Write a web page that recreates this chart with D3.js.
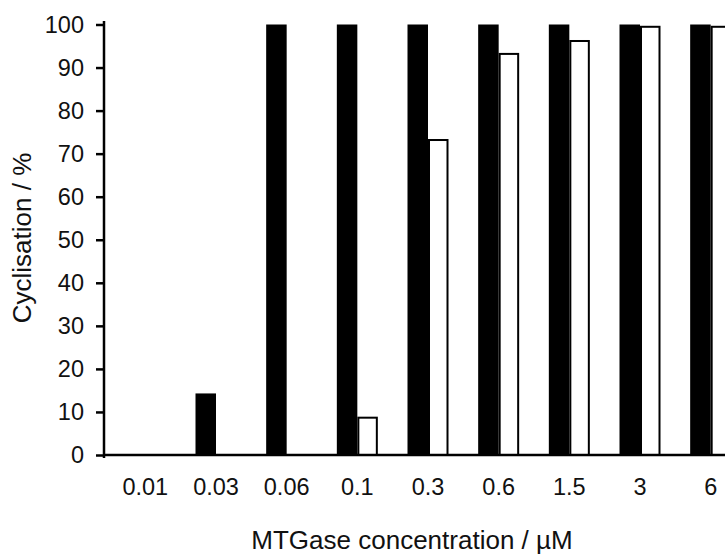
<!DOCTYPE html>
<html>
<head>
<meta charset="utf-8">
<script src="https://cdn.jsdelivr.net/npm/d3@7"></script>
<style>
  body { margin: 0; background: #fff; }
  svg { display: block; font-family: "Liberation Sans", Arial, sans-serif; }
</style>
</head>
<body>
<svg id="chart" width="725" height="555"></svg>
<script>
const concentrations = ["0.01", "0.03", "0.06", "0.1", "0.3", "0.6", "1.5", "3", "6"];
const blackValues = [0, 14.3, 100, 100, 100, 100, 100, 100, 100];
const whiteValues = [0, 0, 0, 8.9, 73.4, 93.4, 96.4, 99.7, 99.7];
const yTicks = [0, 10, 20, 30, 40, 50, 60, 70, 80, 90, 100];

const svg = d3.select("#chart");

const x = d3.scaleBand()
  .domain(concentrations)
  .range([110, 746])
  .padding(0);

const y = d3.scaleLinear()
  .domain([0, 100])
  .range([455, 24.5]);

const barW = 20.5;

// black bars (left of each group)
svg.selectAll("rect.black")
  .data(concentrations)
  .enter()
  .append("rect")
  .attr("class", "black")
  .attr("x", (d) => x(d) + x.bandwidth() / 2 - barW)
  .attr("y", (d, i) => y(blackValues[i]))
  .attr("width", barW)
  .attr("height", (d, i) => y(0) - y(blackValues[i]))
  .attr("fill", "#000");

// white bars with black outline (right of each group)
svg.selectAll("rect.white")
  .data(concentrations.filter((d, i) => whiteValues[i] > 0))
  .enter()
  .append("rect")
  .attr("class", "white")
  .attr("x", (d) => x(d) + x.bandwidth() / 2 + 1)
  .attr("y", (d) => y(whiteValues[concentrations.indexOf(d)]) + 1)
  .attr("width", barW - 2)
  .attr("height", (d) => y(0) - y(whiteValues[concentrations.indexOf(d)]) - 1)
  .attr("fill", "#fff")
  .attr("stroke", "#000")
  .attr("stroke-width", 2);

// y axis
const yAxis = svg.append("g")
  .attr("transform", "translate(104,0)")
  .call(d3.axisLeft(y).tickValues(yTicks).tickSize(8).tickPadding(12));
yAxis.select(".domain").remove();
yAxis.selectAll(".tick line").attr("stroke", "#000").attr("stroke-width", 2.5);
yAxis.selectAll(".tick text")
  .attr("font-size", 23.5)
  .attr("fill", "#111")
  .attr("font-family", "'Liberation Sans', Arial, sans-serif");

svg.append("line")
  .attr("x1", 104).attr("x2", 104)
  .attr("y1", 21).attr("y2", 458)
  .attr("stroke", "#000").attr("stroke-width", 2.5);

// x axis baseline
svg.append("line")
  .attr("x1", 103).attr("x2", 725)
  .attr("y1", y(0)).attr("y2", y(0))
  .attr("stroke", "#000").attr("stroke-width", 2.5);

// category labels
svg.selectAll("text.cat")
  .data(concentrations)
  .enter()
  .append("text")
  .attr("class", "cat")
  .attr("x", (d) => x(d) + x.bandwidth() / 2)
  .attr("y", 495)
  .attr("text-anchor", "middle")
  .attr("font-size", 23.5)
  .attr("fill", "#111")
  .text((d) => d);

// axis titles
svg.append("text")
  .attr("x", 412)
  .attr("y", 549)
  .attr("text-anchor", "middle")
  .attr("font-size", 26)
  .attr("fill", "#111")
  .text("MTGase concentration / µM");

svg.append("text")
  .attr("transform", "translate(31,238) rotate(-90)")
  .attr("text-anchor", "middle")
  .attr("font-size", 26)
  .attr("fill", "#111")
  .text("Cyclisation / %");
</script>
</body>
</html>
